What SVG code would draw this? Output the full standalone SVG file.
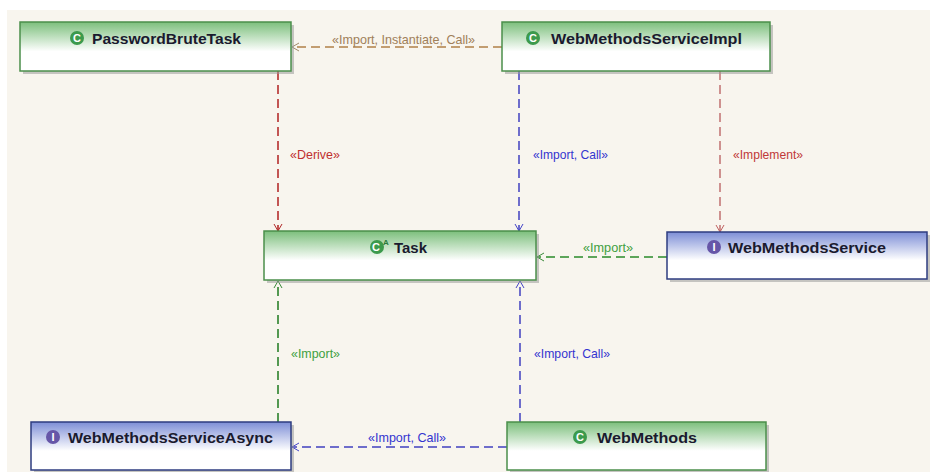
<svg xmlns="http://www.w3.org/2000/svg" width="930" height="472" viewBox="0 0 930 472">
<style>
.title{font-family:"Liberation Sans",Arial,sans-serif;font-weight:bold;font-size:15px;fill:#1a1a2e}
.lbl{font-family:"Liberation Sans",Arial,sans-serif;font-size:12.4px}
.icon{font-family:"Liberation Sans",Arial,sans-serif;font-weight:bold;font-size:11px;fill:#ffffff;text-anchor:middle}
.cls{fill:url(#gGreen);stroke:#4b8f4b;stroke-width:1.5}
.itf{fill:url(#gBlue);stroke:#2e3c80;stroke-width:1.5}
.shadow{fill:#9a9a9a;opacity:0.55}
.edge{fill:none;stroke-width:1.5;stroke-dasharray:9 5}
</style>
<defs>
<linearGradient id="gGreen" x1="0" y1="0" x2="0" y2="1">
<stop offset="0" stop-color="#7cbf7c"/>
<stop offset="0.6" stop-color="#ffffff"/>
</linearGradient>
<linearGradient id="gBlue" x1="0" y1="0" x2="0" y2="1">
<stop offset="0" stop-color="#7d8ed6"/>
<stop offset="0.6" stop-color="#ffffff"/>
</linearGradient>
<marker id="aBrown" markerUnits="userSpaceOnUse" markerWidth="10" markerHeight="10" refX="8" refY="5" orient="auto"><path d="M1,1 L8,5 L1,9" fill="none" stroke="#a08a6a" stroke-width="1"/></marker>
<marker id="aRed" markerUnits="userSpaceOnUse" markerWidth="10" markerHeight="10" refX="8" refY="5" orient="auto"><path d="M1,1 L8,5 L1,9" fill="none" stroke="#b02828" stroke-width="1"/></marker>
<marker id="aPink" markerUnits="userSpaceOnUse" markerWidth="10" markerHeight="10" refX="8" refY="5" orient="auto"><path d="M1,1 L8,5 L1,9" fill="none" stroke="#c06060" stroke-width="1"/></marker>
<marker id="aBlue" markerUnits="userSpaceOnUse" markerWidth="10" markerHeight="10" refX="8" refY="5" orient="auto"><path d="M1,1 L8,5 L1,9" fill="none" stroke="#4444c8" stroke-width="1"/></marker>
<marker id="aGreen" markerUnits="userSpaceOnUse" markerWidth="10" markerHeight="10" refX="8" refY="5" orient="auto"><path d="M1,1 L8,5 L1,9" fill="none" stroke="#3a8a3a" stroke-width="1"/></marker>
</defs>
<rect x="0" y="0" width="930" height="472" fill="#ffffff"/>
<rect x="7" y="10" width="923" height="462" fill="#f8f5ee"/>

<g id="connectors">
<line class="edge" x1="502" y1="47" x2="292" y2="47" stroke="#b08048" marker-end="url(#aBrown)"/>
<text class="lbl" x="332" y="44" fill="#a0805a" textLength="143" lengthAdjust="spacingAndGlyphs">«Import, Instantiate, Call»</text>
<line class="edge" x1="278" y1="71" x2="278" y2="231" stroke="#b02020" marker-end="url(#aRed)"/>
<text class="lbl" x="290" y="159" fill="#c03030" textLength="50" lengthAdjust="spacingAndGlyphs">«Derive»</text>
<line class="edge" x1="519" y1="71" x2="519" y2="231" stroke="#4040c0" marker-end="url(#aBlue)"/>
<text class="lbl" x="533" y="159" fill="#3434d0" textLength="75" lengthAdjust="spacingAndGlyphs">«Import, Call»</text>
<line class="edge" x1="720" y1="71" x2="720" y2="232" stroke="#c07070" marker-end="url(#aPink)"/>
<text class="lbl" x="733" y="159" fill="#c03838" textLength="70" lengthAdjust="spacingAndGlyphs">«Implement»</text>
<line class="edge" x1="667" y1="257" x2="537" y2="257" stroke="#2a8a2a" marker-end="url(#aGreen)"/>
<text class="lbl" x="583" y="252" fill="#40a040" textLength="50" lengthAdjust="spacingAndGlyphs">«Import»</text>
<line class="edge" x1="278" y1="422" x2="278" y2="281" stroke="#1e7a1e" marker-end="url(#aGreen)"/>
<text class="lbl" x="291" y="358" fill="#40a040" textLength="49" lengthAdjust="spacingAndGlyphs">«Import»</text>
<line class="edge" x1="520" y1="422" x2="520" y2="281" stroke="#4040c0" marker-end="url(#aBlue)"/>
<text class="lbl" x="534" y="358" fill="#3434d0" textLength="76" lengthAdjust="spacingAndGlyphs">«Import, Call»</text>
<line class="edge" x1="507" y1="447" x2="292" y2="447" stroke="#4040c0" marker-end="url(#aBlue)"/>
<text class="lbl" x="368" y="442" fill="#3434d0" textLength="78" lengthAdjust="spacingAndGlyphs">«Import, Call»</text>
</g>

<g id="PasswordBruteTask">
<rect class="shadow" x="23" y="25" width="271" height="49"/>
<rect class="cls" x="20" y="22" width="271" height="49"/>
<circle cx="77" cy="38" r="7" fill="#3c9a4c"/>
<text class="icon" x="77" y="42">C</text>
<text class="title" x="92" y="44" textLength="149" lengthAdjust="spacingAndGlyphs">PasswordBruteTask</text>
</g>

<g id="WebMethodsServiceImpl">
<rect class="shadow" x="505" y="25" width="268" height="49"/>
<rect class="cls" x="502" y="22" width="268" height="49"/>
<circle cx="533" cy="38" r="7" fill="#3c9a4c"/>
<text class="icon" x="533" y="42">C</text>
<text class="title" x="551" y="44" textLength="191" lengthAdjust="spacingAndGlyphs">WebMethodsServiceImpl</text>
</g>

<g id="Task">
<rect class="shadow" x="267" y="234" width="272" height="49"/>
<rect class="cls" x="264" y="231" width="272" height="49"/>
<circle cx="377" cy="247" r="7" fill="#3c9a4c"/>
<text class="icon" x="376" y="251">C</text>
<text x="383" y="245" style="font-family:'Liberation Sans',Arial,sans-serif;font-weight:bold;font-size:8px;fill:#2a7a3a">A</text>
<text class="title" x="394" y="253" textLength="33" lengthAdjust="spacingAndGlyphs">Task</text>
</g>

<g id="WebMethodsService">
<rect class="shadow" x="670" y="235" width="260" height="47"/>
<rect class="itf" x="667" y="232" width="260" height="47"/>
<circle cx="714" cy="247" r="7" fill="#6656a8"/>
<text class="icon" x="714" y="251">I</text>
<text class="title" x="728" y="253" textLength="158" lengthAdjust="spacingAndGlyphs">WebMethodsService</text>
</g>

<g id="WebMethodsServiceAsync">
<rect class="shadow" x="34" y="425" width="260" height="48"/>
<rect class="itf" x="31" y="422" width="260" height="48"/>
<circle cx="53" cy="437" r="7" fill="#6656a8"/>
<text class="icon" x="53" y="441">I</text>
<text class="title" x="68" y="443" textLength="205" lengthAdjust="spacingAndGlyphs">WebMethodsServiceAsync</text>
</g>

<g id="WebMethods">
<rect class="shadow" x="510" y="425" width="259" height="48"/>
<rect class="cls" x="507" y="422" width="259" height="48"/>
<circle cx="580" cy="437" r="7" fill="#3c9a4c"/>
<text class="icon" x="580" y="441">C</text>
<text class="title" x="597" y="443" textLength="100" lengthAdjust="spacingAndGlyphs">WebMethods</text>
</g>
</svg>
